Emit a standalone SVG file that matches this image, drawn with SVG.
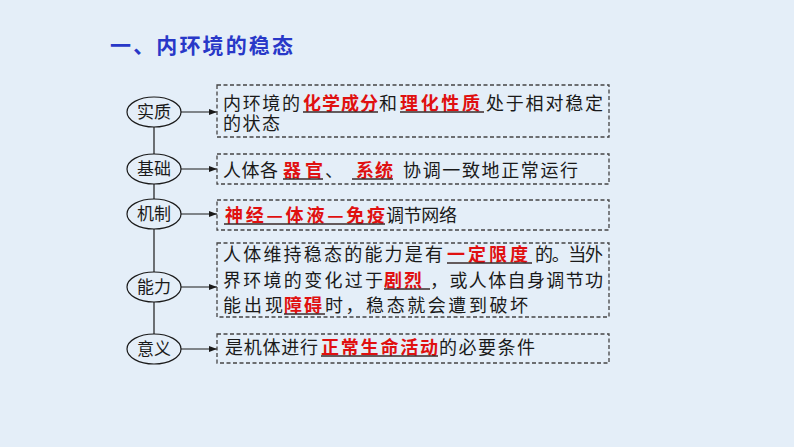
<svg xmlns="http://www.w3.org/2000/svg" width="794" height="447" viewBox="0 0 794 447">
<style>
text{font-family:"Noto Sans CJK SC","Liberation Sans",sans-serif;}
.t{font-size:18px;fill:#1a1a1a;}
.r{font-size:18px;fill:#e01010;font-weight:bold;}
.e{font-size:17px;fill:#1a1a1a;text-anchor:middle;}
.ell{fill:#e4eef8;stroke:#1a1a1a;stroke-width:1.2;}
.box{fill:none;stroke:#444;stroke-width:1.3;stroke-dasharray:4 2.5;}
.ul{stroke:#3a2a2a;stroke-width:1.4;}
.ln{stroke:#1a1a1a;stroke-width:1.2;fill:none;}
.title{font-size:21px;font-weight:bold;fill:#2838c8;}
</style>
<defs>
<marker id="ah" markerWidth="8" markerHeight="6" refX="8" refY="3" orient="auto" markerUnits="userSpaceOnUse">
<path d="M0,0 L8,3 L0,6 Z" fill="#1a1a1a"/>
</marker>
</defs>
<rect width="794" height="447" fill="#e4eef8"/>
<text class="title" x="110" y="53" textLength="183" lengthAdjust="spacing">一、内环境的稳态</text>

<g id="connectors">
<line class="ln" x1="154" y1="127" x2="154" y2="154"/>
<line class="ln" x1="154" y1="184" x2="154" y2="199"/>
<line class="ln" x1="154" y1="229" x2="154" y2="272"/>
<line class="ln" x1="154" y1="302" x2="154" y2="334"/>
<line class="ln" x1="181" y1="112" x2="217" y2="112" marker-end="url(#ah)"/>
<line class="ln" x1="181" y1="169" x2="217" y2="169" marker-end="url(#ah)"/>
<line class="ln" x1="181" y1="214" x2="217" y2="214" marker-end="url(#ah)"/>
<line class="ln" x1="181" y1="287" x2="217" y2="287" marker-end="url(#ah)"/>
<line class="ln" x1="181" y1="349" x2="217" y2="349" marker-end="url(#ah)"/>
</g>

<g id="node-shizhi">
<ellipse class="ell" cx="154" cy="112" rx="27" ry="15"/>
<text class="e" x="154" y="118">实质</text>
</g>
<g id="node-jichu">
<ellipse class="ell" cx="154" cy="169" rx="27" ry="15"/>
<text class="e" x="154" y="175">基础</text>
</g>
<g id="node-jizhi">
<ellipse class="ell" cx="154" cy="214" rx="27" ry="15"/>
<text class="e" x="154" y="220">机制</text>
</g>
<g id="node-nengli">
<ellipse class="ell" cx="154" cy="287" rx="27" ry="15"/>
<text class="e" x="154" y="293">能力</text>
</g>
<g id="node-yiyi">
<ellipse class="ell" cx="154" cy="349" rx="27" ry="15"/>
<text class="e" x="154" y="355">意义</text>
</g>

<g id="box-shizhi">
<rect class="box" x="217" y="85" width="392" height="52"/>
<text class="t" x="223" y="110" textLength="77" lengthAdjust="spacing">内环境的</text>
<text class="r" x="303" y="110" textLength="75" lengthAdjust="spacing">化学成分</text>
<text class="t" x="379" y="110">和</text>
<text class="r" x="400" y="110" textLength="80" lengthAdjust="spacing">理化性质</text>
<text class="t" x="486" y="110" textLength="117" lengthAdjust="spacing">处于相对稳定</text>
<text class="t" x="223" y="130" textLength="57" lengthAdjust="spacing">的状态</text>
<line class="ul" x1="303" y1="112" x2="378" y2="112"/>
<line class="ul" x1="400" y1="112" x2="484" y2="112"/>
</g>

<g id="box-jichu">
<rect class="box" x="217" y="154" width="392" height="30"/>
<text class="t" x="223" y="177" textLength="55" lengthAdjust="spacing">人体各</text>
<text class="r" x="283" y="177" textLength="40" lengthAdjust="spacing">器官</text>
<text class="t" x="325" y="177">、</text>
<text class="r" x="356" y="177" textLength="37" lengthAdjust="spacing">系统</text>
<text class="t" x="403" y="177" textLength="175" lengthAdjust="spacing">协调一致地正常运行</text>
<line class="ul" x1="283" y1="179" x2="323" y2="179"/>
<line class="ul" x1="352" y1="179" x2="393" y2="179"/>
</g>

<g id="box-jizhi">
<rect class="box" x="217" y="200" width="392" height="30"/>
<text class="r" x="225" y="222" textLength="160" lengthAdjust="spacing">神经—体液—免疫</text>
<text class="t" x="386" y="222" textLength="71" lengthAdjust="spacing">调节网络</text>
<line class="ul" x1="224" y1="224" x2="385" y2="224"/>
</g>

<g id="box-nengli">
<rect class="box" x="217" y="243" width="392" height="74"/>
<text class="t" x="223" y="261" textLength="220" lengthAdjust="spacing">人体维持稳态的能力是有</text>
<text class="r" x="447" y="261" textLength="81" lengthAdjust="spacing">一定限度</text>
<text class="t" x="535" y="261" textLength="68" lengthAdjust="spacing">的。当外</text>
<line class="ul" x1="447" y1="263" x2="532" y2="263"/>
<text class="t" x="223" y="287" textLength="160" lengthAdjust="spacing">界环境的变化过于</text>
<text class="r" x="384" y="287" textLength="38" lengthAdjust="spacing">剧烈</text>
<text class="t" x="430" y="287" textLength="173" lengthAdjust="spacing">，或人体自身调节功</text>
<line class="ul" x1="384" y1="289" x2="430" y2="289"/>
<text class="t" x="223" y="312" textLength="60" lengthAdjust="spacing">能出现</text>
<text class="r" x="284" y="312" textLength="38" lengthAdjust="spacing">障碍</text>
<text class="t" x="325" y="312" textLength="203" lengthAdjust="spacing">时，稳态就会遭到破坏</text>
<line class="ul" x1="284" y1="314" x2="325" y2="314"/>
</g>

<g id="box-yiyi">
<rect class="box" x="217" y="334" width="392" height="29"/>
<text class="t" x="225" y="354" textLength="93" lengthAdjust="spacing">是机体进行</text>
<text class="r" x="321" y="354" textLength="117" lengthAdjust="spacing">正常生命活动</text>
<text class="t" x="439" y="354" textLength="96" lengthAdjust="spacing">的必要条件</text>
<line class="ul" x1="321" y1="356" x2="438" y2="356"/>
</g>
</svg>
